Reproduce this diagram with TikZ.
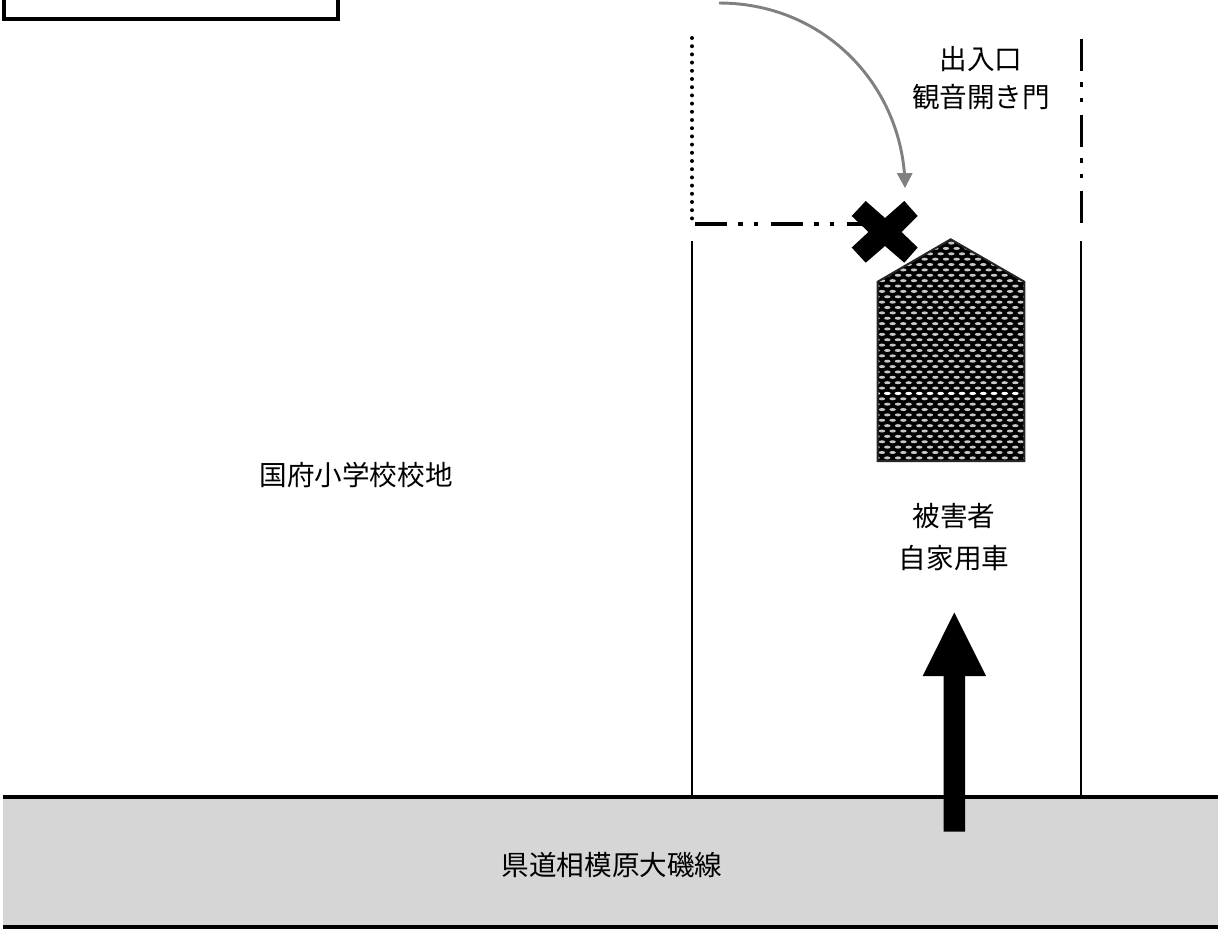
\documentclass[tikz,border=0pt]{standalone}
\usepackage{fontspec}
\newfontfamily\cjk{Noto Sans CJK JP}
\tikzset{
  lbl/.style={font=\cjk\fontsize{20.7pt}{26pt}\selectfont,align=center,inner sep=0pt,text=black},
  wall/.style={line width=1.7pt,black},
  road/.style={line width=3pt,black},
  gatedash/.style={line width=2.6pt,black,dash pattern=on 24pt off 8.25pt on 3.5pt off 8.25pt on 3.5pt off 9.5pt},
  gatedots/.style={line width=3pt,black,line cap=round,dash pattern=on 0pt off 6.15pt},
  leaf/.style={black!22},
}
\begin{document}
\begin{tikzpicture}[x=0.75pt,y=-0.75pt]
\useasboundingbox (0,0) rectangle (1218,929);
\coordinate (lw1) at (692,241);
\coordinate (lw2) at (692,797);
\coordinate (rw1) at (1081,241);
\coordinate (rw2) at (1081,797);
% road
\fill[black!16] (3.3,797) rectangle (1218,927);
\draw[road] (3.3,797) -- (1218,797);
\draw[road] (3.3,927) -- (1218,927);
\node[lbl] (roadlabel) at (612,865) {県道相模原大磯線};
% box
\draw[line width=3pt] (3.7,-5) -- (3.7,18.7) -- (338,18.7) -- (338,-5);
% walls
\draw[wall] (lw1) -- (lw2);
\draw[wall] (rw1) -- (rw2);
% gates
\coordinate (g1) at (692,38);
\coordinate (g2) at (692,222);
\draw[gatedots] (g1) -- (g2);
\coordinate (g3) at (695,224);
\coordinate (g4) at (865,224);
\draw[gatedash] (g3) -- (g4);
\coordinate (g5) at (1081.5,39);
\coordinate (g6) at (1081.5,222.5);
\draw[gatedash] (g5) -- (g6);
% car
\begin{scope}
\clip (877.7,281.7) -- (950.7,239.3) -- (1024.3,281.7) -- (1024.3,461) -- (877.7,461) -- cycle;
\fill[black] (870,235) rectangle (1030,465);
\foreach \r in {0,...,42}{
  \foreach \c in {0,...,15}{
    \pgfmathsetmacro{\px}{871.3+5.33*mod(\r,2)+\c*10.67}
    \pgfmathsetmacro{\py}{237.7+\r*5.37}
    \ifnum\r=29
      \fill[white] (\px,\py) ellipse [x radius=3.4,y radius=1.6];
    \else
      \fill[leaf] (\px,\py) ellipse [x radius=3.2,y radius=1.5];
    \fi
  }
}
\end{scope}
\draw[line width=1.5pt,black!85,line join=miter] (877.7,281.7) -- (950.7,239.3) -- (1024.3,281.7) -- (1024.3,461) -- (877.7,461) -- cycle;
% X
\fill[black] (851.7,216) -- (865.7,201) -- (885,218) -- (904.3,201) -- (917.7,216) -- (901.5,232) -- (917.7,247.5) -- (904.3,262.7) -- (885,246) -- (865.7,262.7) -- (851.7,247.5) -- (868.5,232) -- cycle;
% labels
\node[lbl] (entry) at (981,59) {出入口};
\node[lbl] (door) at (981,97) {観音開き門};
\node[lbl] (school) at (356,475) {国府小学校校地};
\node[lbl] (victim1) at (954,516) {被害者};
\node[lbl] (victim2) at (954,558) {自家用車};
% arrows
\coordinate (a1) at (719,3);
\coordinate (a2) at (904.5,174);
\draw[line width=2.2pt,black!50] (a1) .. controls (821,3) and (897,80) .. (a2);
\fill[black!50] (905,188) -- (896.7,173) -- (912.7,173) -- cycle;
\fill[black] (943.7,831.7) -- (943.7,676) -- (922.7,676) -- (954.3,612.5) -- (986,676) -- (965,676) -- (965,831.7) -- cycle;
\end{tikzpicture}
\end{document}
